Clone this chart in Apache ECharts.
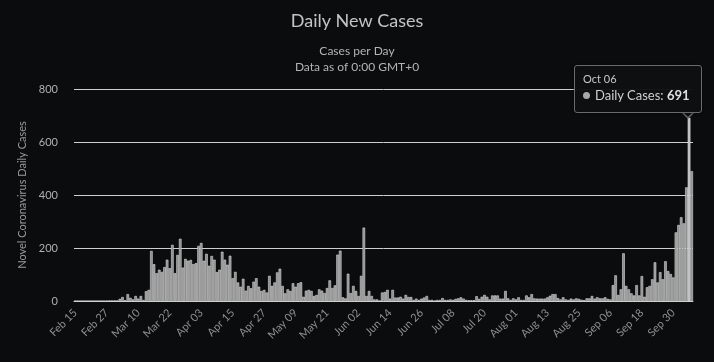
<!DOCTYPE html>
<html><head><meta charset="utf-8">
<script src="https://cdn.jsdelivr.net/npm/echarts@6/dist/echarts.min.js"></script>
<style>html,body{margin:0;padding:0;background:#0b0c0e;}#c{width:714px;height:362px;}</style>
</head><body><div id="c"></div>
<script>
const startDate = '2020-02-15';
const dailyCases = [
0,0,0,0,0,0,0,0,0,0,0,0,0,2,1,2,1,8,15,3,
26,12,6,19,9,19,4,37,42,189,139,105,118,110,128,156,124,212,105,174,
235,126,159,152,155,139,143,208,219,152,178,133,170,156,109,118,186,156,137,171,
86,110,70,54,84,39,57,48,73,86,54,38,42,32,95,57,70,108,122,57,
29,44,38,67,54,67,71,16,39,42,38,19,23,44,39,30,49,78,49,59,
175,190,14,10,103,30,57,38,19,95,277,19,38,19,6,6,1,32,34,42,
9,42,13,13,16,9,23,15,15,4,9,4,9,13,19,4,4,0,4,4,
11,4,4,6,4,8,10,14,9,4,3,3,3,18,8,16,23,16,6,21,
21,21,9,9,38,10,4,10,6,14,4,4,21,14,26,10,9,9,9,9,
14,20,26,26,11,6,14,6,4,9,6,10,8,5,3,10,10,19,9,14,
10,10,14,8,6,60,97,23,44,180,57,44,29,21,60,21,94,16,52,57,
82,146,70,109,82,150,113,102,89,259,287,316,293,429,691,490
];
const yTicks = [0,200,400,600,800];
const titleText = 'Daily New Cases';
const subtitleLines = ['Cases per Day','Data as of 0:00 GMT+0'];
const seriesName = 'Daily Cases';
const yAxisName = 'Novel Coronavirus Daily Cases';
const tipIndex = 234;

const months = ['Jan','Feb','Mar','Apr','May','Jun','Jul','Aug','Sep','Oct','Nov','Dec'];
const categories = dailyCases.map((v,i)=>{
  const d = new Date(startDate+'T00:00:00Z');
  d.setUTCDate(d.getUTCDate()+i);
  return months[d.getUTCMonth()]+' '+String(d.getUTCDate()).padStart(2,'0');
});
const FONT = 'Lato';
const chart = echarts.init(document.getElementById('c'));
chart.setOption({
  backgroundColor:'#0b0c0e',
  animation:false,
  title:[
    {text:titleText,left:'center',top:7,textStyle:{color:'#c4c4c4',fontSize:18,fontWeight:'normal',fontFamily:FONT}},
    {text:subtitleLines.join('\n'),left:'center',top:38,textStyle:{color:'#b4b4b4',fontSize:12,fontWeight:'normal',fontFamily:FONT,lineHeight:16}}
  ],
  grid:{left:74,right:21,top:89,bottom:61,containLabel:false},
  graphic:[
    {type:'polygon',z:100,shape:{points:[[681,112],[695,112],[688,119]]},style:{fill:'#6a6a6a'}},
    {type:'polygon',z:101,shape:{points:[[683,112],[693,112],[688,117]]},style:{fill:'#0f1013'}}
  ],
  tooltip:{
    trigger:'item',triggerOn:'none',alwaysShowContent:true,
    backgroundColor:'rgba(14,15,18,0.97)',borderColor:'#6a6a6a',borderWidth:1,padding:[6,8,6,8],
    extraCssText:'border-radius:3px;box-shadow:0 0 3px rgba(0,0,0,0.6);width:110px;',
    position:function(){return [574,65];},
    formatter:function(p){
      return '<div style="font-family:'+FONT+';color:#c8c8c8;font-size:11px;line-height:13px;">'+p.name+'</div>'+
        '<div style="font-family:'+FONT+';color:#cfcfcf;font-size:13px;line-height:21px;white-space:nowrap;">'+
        '<span style="display:inline-block;width:7px;height:7px;border-radius:50%;background:#a8a8a8;margin-right:5px;vertical-align:1px;"></span>'+
        p.seriesName+': <b style="color:#e0e0e0;">'+p.value+'</b></div>';
    }
  },
  xAxis:{
    type:'category',data:categories,boundaryGap:true,
    axisLine:{show:true,lineStyle:{color:'#cfcfcf',width:1}},
    axisTick:{show:false},
    axisLabel:{interval:11,rotate:45,color:'#8f8f8f',fontSize:11,fontFamily:FONT,margin:10}
  },
  yAxis:{
    type:'value',min:0,max:800,interval:200,
    name:yAxisName,nameLocation:'middle',nameGap:46,
    nameTextStyle:{color:'#9a9a9a',fontSize:11,fontFamily:FONT},
    axisLine:{show:false},axisTick:{show:false},
    axisLabel:{color:'#b0b0b0',fontSize:11,fontFamily:FONT,margin:16,
      formatter:function(v){return yTicks.indexOf(v)>=0?String(v):'';}},
    splitLine:{lineStyle:{color:'#cfcfcf',width:1}}
  },
  series:[{
    name:seriesName,type:'bar',
    data:dailyCases.map((v,i)=>i===tipIndex?{value:v,itemStyle:{borderColor:'#ffffff',color:'#b0b0b0'}}:v),
    barCategoryGap:'0%',
    itemStyle:{color:'#8e8e8e',borderColor:'#d6d6d6',borderWidth:0.6},
    emphasis:{disabled:true}
  }]
});
chart.dispatchAction({type:'showTip',seriesIndex:0,dataIndex:tipIndex});
</script>
</body></html>
